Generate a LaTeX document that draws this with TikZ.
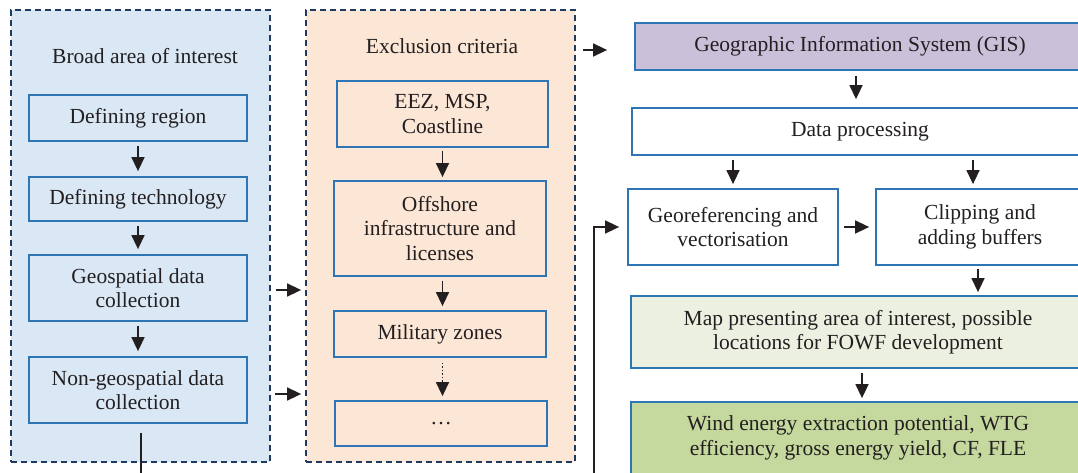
\documentclass[tikz,border=0pt]{standalone}
\usepackage{fontspec}
\setmainfont{Liberation Serif}
\usetikzlibrary{arrows.meta}
\definecolor{lpfill}{HTML}{DAE7F5}
\definecolor{mpfill}{HTML}{FCE6D6}
\definecolor{dashcol}{HTML}{1F3A5F}
\definecolor{boxcol}{HTML}{2E75B6}
\definecolor{giscol}{HTML}{C9C1DA}
\definecolor{mapcol}{HTML}{EBF0E0}
\definecolor{windcol}{HTML}{C5D89E}
\definecolor{ink}{HTML}{231F20}
\tikzset{
  txt/.style={font=\fontsize{21.5pt}{24.5pt}\selectfont, text=ink, align=center},
  panel/.style={draw=dashcol, line width=1.8pt, dash pattern=on 6pt off 4pt, inner sep=0pt},
  bx/.style={txt, draw=boxcol, line width=1.8pt, inner sep=0pt},
  arr/.style={draw=ink, line width=1.5pt, -{Triangle[length=14pt,width=13pt]}},
  ln/.style={draw=ink, line width=1.5pt},
}
\begin{document}
\begin{tikzpicture}[x=1pt,y=-1pt]
\useasboundingbox (0,0) rectangle (1078,473);
\clip (0,0) rectangle (1078,473);
\fill[white] (0,0) rectangle (1078,473);

% panels
\node[panel, fill=lpfill, minimum width=259pt, minimum height=452pt] (lp) at (140.5,236) {};
\node[panel, fill=mpfill, minimum width=269pt, minimum height=452pt] (mp) at (440.5,236) {};
\node[txt] (lpt) at (145,56) {Broad area of interest};
\node[txt] (mpt) at (442,46) {Exclusion criteria};

% left boxes
\node[bx, fill=lpfill, minimum width=218pt, minimum height=46pt] (r1) at (138,118) {Defining region};
\node[bx, fill=lpfill, minimum width=218pt, minimum height=44pt] (r2) at (138,199) {Defining technology};
\node[bx, fill=lpfill, minimum width=218pt, minimum height=66pt] (r3) at (138,288) {Geospatial data\\collection};
\node[bx, fill=lpfill, minimum width=218pt, minimum height=66pt] (r4) at (138,390) {Non-geospatial data\\collection};

% middle boxes
\node[bx, fill=mpfill, minimum width=211pt, minimum height=66pt] (m1) at (442.5,114) {EEZ, MSP,\\Coastline};
\node[bx, fill=mpfill, minimum width=212pt, minimum height=95pt] (m2) at (440,228.5) {Offshore\\infrastructure and\\licenses};
\node[bx, fill=mpfill, minimum width=212pt, minimum height=46pt] (m3) at (440,334) {Military zones};
\node[bx, fill=mpfill, minimum width=212pt, minimum height=45pt] (m4) at (441,423.5) {\dots};

% right boxes
\node[bx, fill=giscol, minimum width=450pt, minimum height=47pt] (gis) at (860,46.5) {Geographic Information System (GIS)};
\node[bx, fill=white, minimum width=456pt, minimum height=47pt] (dp) at (860,131.5) {Data processing};
\node[bx, fill=white, minimum width=210pt, minimum height=76pt] (geo) at (733,227) {Georeferencing and\\vectorisation};
\node[bx, fill=white, minimum width=208pt, minimum height=76pt] (clip) at (980,227) {Clipping and\\adding buffers};
\node[bx, fill=mapcol, minimum width=454pt, minimum height=72pt] (map) at (858,332) {Map presenting area of interest, possible\\locations for FOWF development};
\node[bx, fill=windcol, minimum width=454pt, minimum height=72pt] (wind) at (858,438) {Wind energy extraction potential, WTG\\efficiency, gross energy yield, CF, FLE};

% coordinates
\coordinate (ya) at (0,290);
\coordinate (yb) at (0,394);
\coordinate (yc) at (0,50);
\coordinate (cl) at (141,480);
\coordinate (cr) at (594,480);

% left arrows
\draw[arr, shorten <=4pt, shorten >=5pt] (r1) -- (r2);
\draw[arr, shorten <=4pt, shorten >=5pt] (r2) -- (r3);
\draw[arr, shorten <=4pt, shorten >=5pt] (r3) -- (r4);
\draw[ln, shorten <=9pt] (r4.south -| cl) -- (cl);

% panel arrows
\draw[arr, shorten <=5pt, shorten >=4pt] (lp.east |- ya) -- (mp.west |- ya);
\draw[arr, shorten <=4pt, shorten >=4pt] (lp.east |- yb) -- (mp.west |- yb);
\draw[arr, shorten <=7pt, shorten >=27pt] (mp.east |- yc) -- (gis.west |- yc);

% middle arrows
\draw[arr, shorten <=3pt, shorten >=3pt] (m1.south) -- (m1.south |- m2.north);
\draw[arr, shorten <=4pt, shorten >=4pt] (m2.south -| m1.south) -- (m1.south |- m3.north);
\draw[draw=ink, line width=1.5pt, dotted, shorten <=5pt, shorten >=18pt] (m3.south -| m1.south) -- (m1.south |- m4.north);
\draw[arr, shorten <=22pt, shorten >=4pt] (m3.south -| m1.south) -- (m1.south |- m4.north);

% right arrows
\draw[arr, shorten <=5pt, shorten >=8pt] ([xshift=-4pt]gis.south) -- ([xshift=-4pt]gis.south |- dp.north);
\draw[arr, shorten <=4pt, shorten >=4pt] (geo.north |- dp.south) -- (geo.north);
\draw[arr, shorten <=4pt, shorten >=4pt] ([xshift=-7pt]clip.north |- dp.south) -- ([xshift=-7pt]clip.north);
\draw[arr, shorten <=5pt, shorten >=6pt] (geo.east) -- (clip.west);
\draw[arr, shorten <=3pt, shorten >=3pt] ([xshift=-2pt]clip.south) -- ([xshift=-2pt]clip.south |- map.north);
\draw[arr, shorten <=4pt, shorten >=3pt] ([xshift=4pt]map.south) -- ([xshift=4pt]map.south |- wind.north);
\draw[arr, shorten >=8pt] (cr) -- (cr |- geo.west) -- (geo.west);
\end{tikzpicture}
\end{document}
